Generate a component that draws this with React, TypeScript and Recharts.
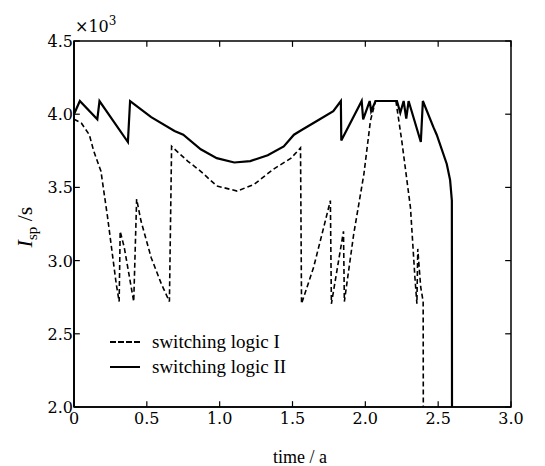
import React from 'react';
import { LineChart, Line, XAxis, YAxis, Legend, Label, ReferenceArea, ReferenceLine } from 'recharts';

// time (a) and specific impulse (x10^3 s)
const logicITime = [0, 0.05, 0.105, 0.135, 0.185, 0.23, 0.29, 0.31, 0.317, 0.345, 0.41, 0.43, 0.46, 0.53, 0.6, 0.655, 0.67, 0.78, 0.87, 0.98, 1.12, 1.235, 1.37, 1.49, 1.555, 1.562, 1.645, 1.715, 1.76, 1.767, 1.85, 1.856, 1.92, 1.99, 2.035, 2.07, 2.21, 2.25, 2.31, 2.34, 2.354, 2.36, 2.38, 2.397, 2.398];
const logicIIsp = [3.965, 3.94, 3.86, 3.75, 3.61, 3.3, 2.84, 2.72, 3.2, 3.09, 2.72, 3.42, 3.27, 3.02, 2.84, 2.72, 3.78, 3.68, 3.61, 3.51, 3.475, 3.52, 3.625, 3.7, 3.77, 2.705, 2.955, 3.23, 3.41, 2.705, 3.2, 2.72, 3.18, 3.59, 3.955, 4.09, 4.09, 3.82, 3.36, 2.89, 2.705, 3.08, 2.82, 2.72, 2.0];

const logicIITime = [0, 0.04, 0.16, 0.175, 0.37, 0.385, 0.53, 0.69, 0.75, 0.87, 0.98, 1.1, 1.21, 1.33, 1.44, 1.51, 1.56, 1.67, 1.78, 1.832, 1.835, 1.975, 1.985, 2.03, 2.04, 2.07, 2.217, 2.24, 2.263, 2.281, 2.297, 2.381, 2.395, 2.468, 2.49, 2.559, 2.582, 2.594, 2.595];
const logicIIIsp = [4.0, 4.09, 3.965, 4.09, 3.81, 4.09, 3.98, 3.885, 3.86, 3.76, 3.7, 3.67, 3.68, 3.72, 3.78, 3.86, 3.89, 3.955, 4.02, 4.09, 3.82, 4.09, 3.965, 4.09, 4.02, 4.09, 4.09, 4.01, 4.09, 3.97, 4.09, 3.81, 4.09, 3.91, 3.86, 3.66, 3.55, 3.41, 2.0];

const xTicks = [0, 0.5, 1, 1.5, 2, 2.5, 3];
const yTicks = [2, 2.5, 3, 3.5, 4, 4.5];
const seriesNames = ['switching logic I', 'switching logic II'];

const dataI = logicITime.map((t, i) => ({ t, isp: logicIIsp[i] }));
const dataII = logicIITime.map((t, i) => ({ t, isp: logicIIIsp[i] }));

const X_MIN = 0, X_MAX = 3, Y_MIN = 2, Y_MAX = 4.5;
const TICK_DX = 0.04; // inward tick length in x units (~6px)
const TICK_DY = 0.04; // inward tick length in y units (~6px)

const TICK_FONT = '"DejaVu Serif", "Liberation Serif", serif';
const TEXT_FONT = '"Liberation Serif", "Times New Roman", serif';

const fmtX = (v: number) => (v === 0 ? '0' : v.toFixed(1));

// default tickSize 6 + tickMargin 2 => tick anchor sits 8px outside the axis line
const BottomTick = (p: any) => (
  <text x={p.x} y={p.y + 9} textAnchor="middle" fontFamily={TICK_FONT} fontSize={16} fill="#000">
    {fmtX(p.payload.value)}
  </text>
);
const LeftTick = (p: any) => (
  <text x={p.x + 7} y={p.y + 6} textAnchor="end" fontFamily={TICK_FONT} fontSize={16} fill="#000">
    {p.payload.value.toFixed(1)}
  </text>
);

const axisLineStyle = { stroke: '#000', strokeWidth: 1.5 };

const AxisTexts = () => (
  <g>
    <text x={67} y={24} fontFamily={TICK_FONT} fontSize={16} fill="#000">
      ×10<tspan fontSize={12} dy={-7}>3</tspan>
    </text>
    <text
      x={24}
      y={219}
      transform="rotate(-90, 24, 219)"
      textAnchor="middle"
      fontFamily={TEXT_FONT}
      fontSize={22}
      fill="#000"
    >
      <tspan fontStyle="italic">I</tspan>
      <tspan fontSize={15} dy={5}>sp</tspan>
      <tspan dy={-5}> /s</tspan>
    </text>
    <text x={292} y={455} textAnchor="middle" fontFamily={TEXT_FONT} fontSize={18} fill="#000">
      time / a
    </text>
  </g>
);

const LegendBox = () => (
  <svg width={260} height={52} style={{ display: 'block' }}>
    <line x1={2} y1={14} x2={32} y2={14} stroke="#000" strokeWidth={1.8} strokeDasharray="6 2" />
    <text x={44} y={20} fontFamily={TEXT_FONT} fontSize={19} fill="#000">{seriesNames[0]}</text>
    <line x1={2} y1={39} x2={32} y2={39} stroke="#000" strokeWidth={2} />
    <text x={44} y={45} fontFamily={TEXT_FONT} fontSize={19} fill="#000">{seriesNames[1]}</text>
  </svg>
);

const tickSegments = [
  ...xTicks.map((v) => [{ x: v, y: Y_MIN }, { x: v, y: Y_MIN + TICK_DY }]),
  ...xTicks.map((v) => [{ x: v, y: Y_MAX }, { x: v, y: Y_MAX - TICK_DY }]),
  ...yTicks.map((v) => [{ x: X_MIN, y: v }, { x: X_MIN + TICK_DX, y: v }]),
  ...yTicks.map((v) => [{ x: X_MAX, y: v }, { x: X_MAX - TICK_DX, y: v }]),
];

export default function App() {
  return (
    <LineChart width={537} height={458} margin={{ top: 33, right: 34, bottom: 0, left: 0 }}>
      <XAxis
        xAxisId="bottom"
        type="number"
        dataKey="t"
        domain={[X_MIN, X_MAX]}
        ticks={xTicks}
        height={59}
        tickLine={false}
        tick={BottomTick}
        axisLine={axisLineStyle}
      />
      <YAxis
        yAxisId="left"
        type="number"
        domain={[Y_MIN, Y_MAX]}
        ticks={yTicks}
        width={66}
        tickLine={false}
        tick={LeftTick}
        axisLine={{ stroke: '#000', strokeWidth: 1.8 }}
      >
        <Label content={AxisTexts} />
      </YAxis>
      <ReferenceArea
        xAxisId="bottom"
        yAxisId="left"
        x1={X_MIN}
        x2={X_MAX}
        y1={Y_MIN}
        y2={Y_MAX}
        fill="none"
        stroke="#000"
        strokeWidth={1.5}
      />
      {tickSegments.map((seg, i) => (
        <ReferenceLine
          key={`tick-${i}`}
          xAxisId="bottom"
          yAxisId="left"
          segment={seg}
          stroke="#000"
          strokeWidth={1.2}
          ifOverflow="extendDomain"
        />
      ))}
      <Legend
        layout="vertical"
        align="center"
        verticalAlign="middle"
        content={LegendBox}
        wrapperStyle={{ position: 'absolute', left: 100, top: 320, width: 260, height: 52 }}
      />
      <Line
        data={dataI}
        xAxisId="bottom"
        yAxisId="left"
        dataKey="isp"
        name={seriesNames[0]}
        stroke="#000"
        strokeWidth={1.6}
        strokeDasharray="5 3"
        dot={false}
        isAnimationActive={false}
      />
      <Line
        data={dataII}
        xAxisId="bottom"
        yAxisId="left"
        dataKey="isp"
        name={seriesNames[1]}
        stroke="#000"
        strokeWidth={2.2}
        dot={false}
        isAnimationActive={false}
      />
    </LineChart>
  );
}
